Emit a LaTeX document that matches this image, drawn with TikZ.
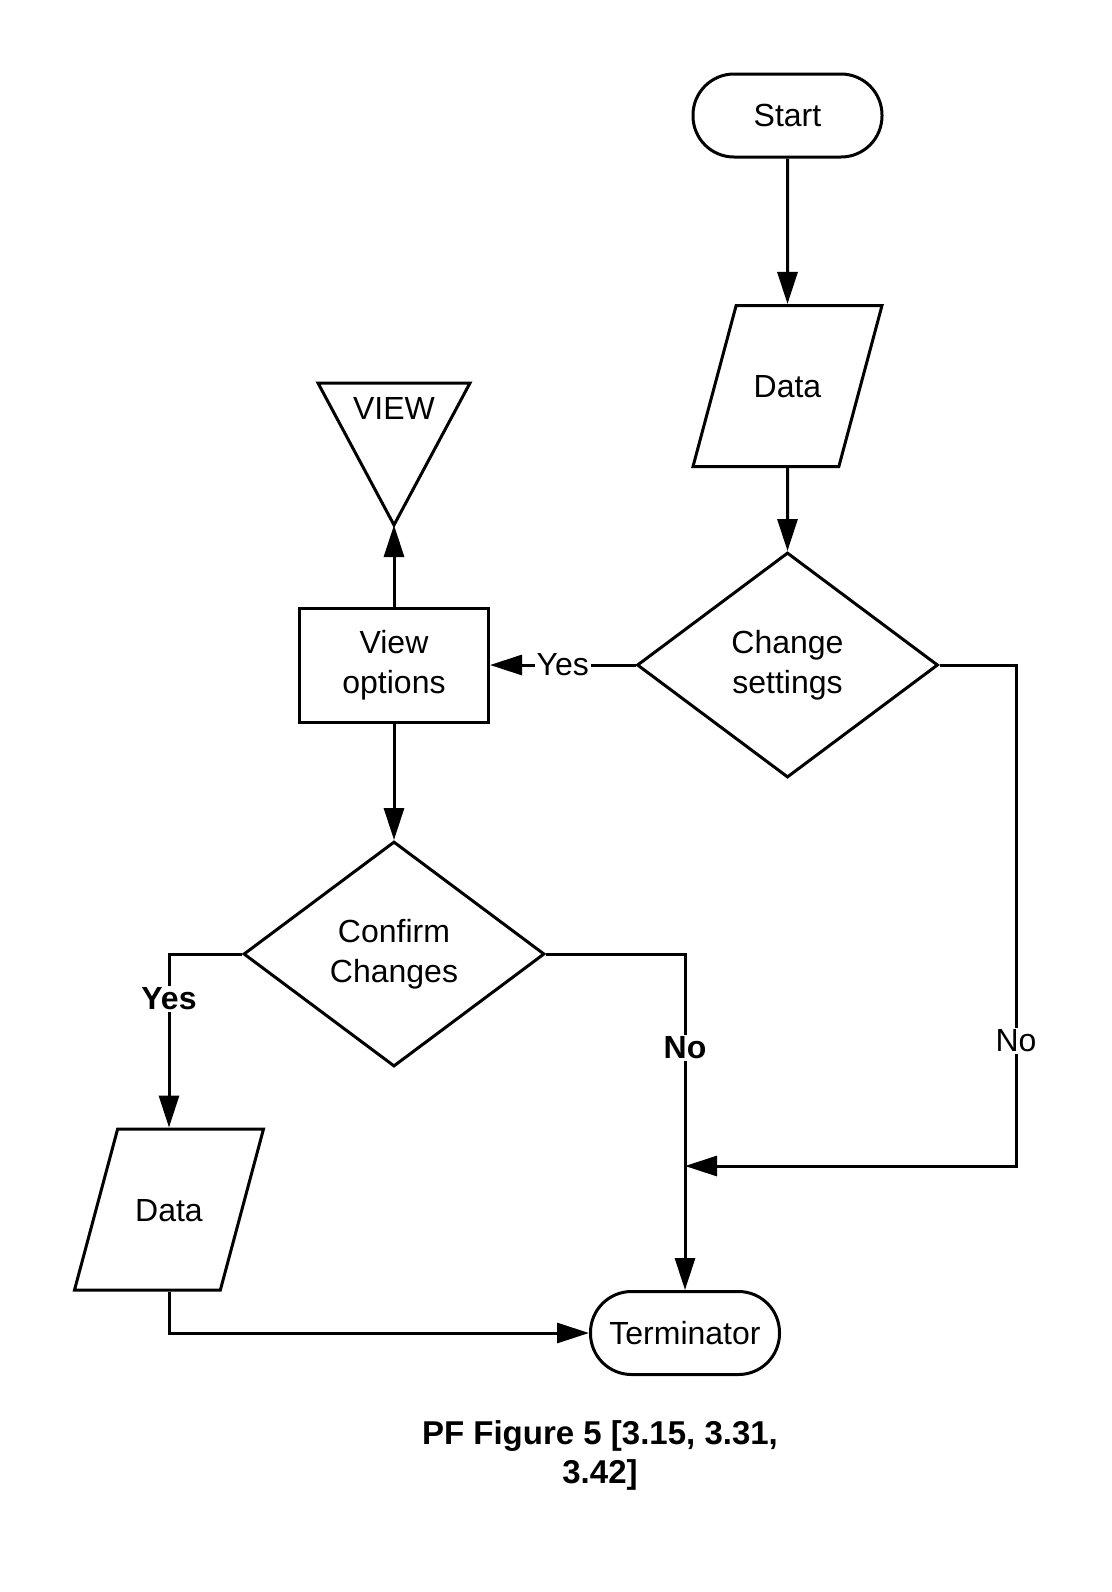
\documentclass[tikz,border=0pt]{standalone}
\usepackage{fontspec}
\setmainfont{Liberation Sans}
\usetikzlibrary{shapes.geometric,arrows.meta}

\begin{document}
\fontsize{16}{20}\selectfont
\begin{tikzpicture}[x=0.5pt,y=-0.5pt,line width=1.5pt,
  terminal/.style={draw,rectangle,rounded corners=20.5pt,minimum width=94.5pt,minimum height=41.5pt,inner sep=0pt},
  io/.style={draw,trapezium,trapezium left angle=75,trapezium right angle=105,trapezium stretches body,
    text height=11.5pt,text depth=0pt,inner ysep=34.5pt,inner xsep=0pt,minimum width=94.5pt},
  decision/.style={draw,diamond,minimum width=150.5pt,minimum height=112.5pt,inner sep=0pt,align=center},
  process/.style={draw,rectangle,minimum width=94.5pt,minimum height=57pt,align=center},
  flow/.style={-{Triangle[length=16pt,width=10pt]}},
  lbl/.style={fill=white,inner sep=1pt}]
\useasboundingbox (0,0) rectangle (1112,1592);
%----------shapes------------------------------
\node[terminal] (start) at (787.5,115.5) {Start};
\node[io] (data1) at (787.5,386) {Data};
\node[decision] (cs) at (787.5,665) {Change\\settings};
\node[process] (vo) at (394,665) {View\\options};
%----------VIEW triangle-----------------------
\coordinate (viewtip) at (394,525);
\draw (318,383) -- (470,383) -- (viewtip) -- cycle;
\node (view) at (394,408) {VIEW};
\node[decision] (cc) at (394,954) {Confirm\\Changes};
\node[io] (data2) at (169,1209.5) {Data};
\node[terminal] (term) at (685,1333) {Terminator};
\coordinate (merge) at (685,1166);
\coordinate (noturn) at (1016,1166);
%----------connectors--------------------------
\draw[flow] (start) -- (data1);
\draw[flow] (data1) -- (cs);
\draw[flow] (cs.west) -- node[lbl]{Yes} (vo.east);
\draw[flow] (vo) -- (viewtip);
\draw[flow] (vo) -- (cc);
\draw[flow] (cc.west) -| node[lbl,pos=0.63,font=\bfseries]{Yes} (data2.north);
\draw[flow] (cc.east) -| node[lbl,pos=0.64,font=\bfseries]{No} (term.north);
\draw[flow] (cs.east) -| node[lbl,pos=0.875]{No} (noturn) -- (merge);
\draw[flow] (data2.south) |- (term.west);
%----------caption-----------------------------
\node[align=center,font=\fontsize{16.5}{19.5}\selectfont\bfseries] (caption) at (600,1455) {PF Figure 5 [3.15, 3.31,\\3.42]};
\end{tikzpicture}
\end{document}
